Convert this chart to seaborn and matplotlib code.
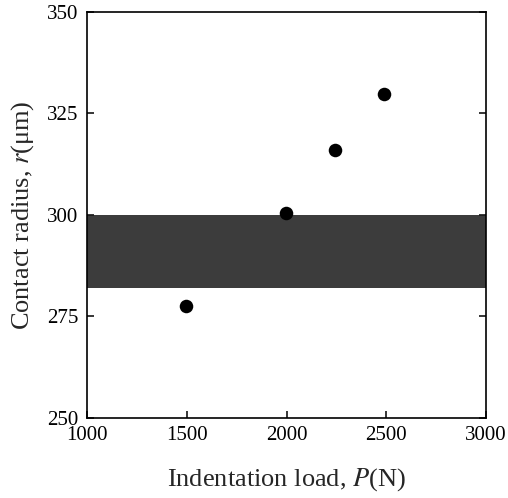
import pandas as pd
import matplotlib
matplotlib.use("Agg")
import matplotlib.pyplot as plt
import seaborn as sns

# data
load = [1495, 1995, 2245, 2490]
radius = [277.5, 300.4, 315.9, 329.9]
band = [282, 300]  # dark scan artefact band
x_ticks = [1000, 1500, 2000, 2500, 3000]
y_ticks = [250, 275, 300, 325, 350]

df = pd.DataFrame({"load": load, "radius": radius})

sns.set_style("ticks")
plt.rcParams["font.family"] = ["Liberation Serif", "DejaVu Serif"]
plt.rcParams["mathtext.fontset"] = "stix"

fig = plt.figure(figsize=(5.08, 4.98), dpi=100)
ax = fig.add_axes([0.171, 0.161, 0.786, 0.815])

ax.axhspan(band[0], band[1], color="#1a1a1a", alpha=0.85, lw=0, zorder=1)
sns.scatterplot(data=df, x="load", y="radius", ax=ax, color="black",
                s=95, edgecolor="black", linewidth=0, zorder=3)

ax.set_xlim(1000, 3000)
ax.set_ylim(250, 350)
ax.set_xticks(x_ticks)
ax.set_yticks(y_ticks)
ax.tick_params(direction="in", length=5, width=1.1, labelsize=15,
               top=False, right=True, pad=6, colors="black")
for s in ax.spines.values():
    s.set_linewidth(1.2)
    s.set_color("black")

ax.set_xlabel("Indentation load, $P$(N)", fontsize=19, labelpad=15)
ax.set_ylabel("Contact radius, $r$(\u03bcm)", fontsize=19, labelpad=8)

fig.savefig("out.png", dpi=100)
